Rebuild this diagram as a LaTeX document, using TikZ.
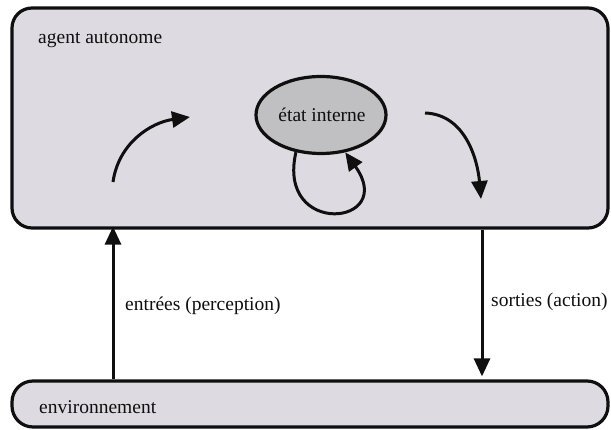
\documentclass[tikz,border=0pt]{standalone}
\usepackage{fontspec}
\setmainfont{Liberation Serif}
\usetikzlibrary{arrows.meta,shapes.geometric}
\definecolor{boxgray}{RGB}{221,219,225}
\definecolor{ellgray}{RGB}{192,191,194}
\definecolor{ink}{RGB}{15,15,15}
\tikzset{
  panel/.style={draw=ink,line width=3.2pt,fill=boxgray,rounded corners=20pt,inner sep=0pt},
  arr/.style={draw=ink,line width=3pt,-{Triangle[length=18pt,width=16pt]}},
  lbl/.style={font=\fontsize{19.5}{22}\selectfont,text=ink,inner sep=0pt}
}
\begin{document}
\begin{tikzpicture}[x=1pt,y=-1pt]
\useasboundingbox (0,0) rectangle (611,430);
\node[panel,minimum width=596pt,minimum height=220pt] (agent) at (310,118) {};
\node[panel,rounded corners=21pt,minimum width=596pt,minimum height=46pt] (env) at (310,404) {};
\node[draw=ink,line width=3.2pt,fill=ellgray,ellipse,minimum width=130pt,minimum height=77pt,inner sep=0pt] (etat) at (321,115) {};
\node[lbl] (etatlbl) at (322,115) {état interne};
\node[lbl,anchor=base west] (agentlbl) at (38,44) {agent autonome};
\node[lbl,anchor=base west] (envlbl) at (39,414) {environnement};
\node[lbl,anchor=base west] (inlbl) at (125,311) {entrées (perception)};
\node[lbl,anchor=base west] (outlbl) at (491,307) {sorties (action)};
% curved arrows inside the agent
\coordinate (a1) at (113,182);
\coordinate (a2) at (190,117);
\coordinate (b1) at (425,113);
\coordinate (b2) at (481,199);
\draw[arr] (a1) to[out=82,in=188] (a2);
\draw[arr] (b1) to[out=-2,in=95] (b2);
% self loop
\draw[arr] (etat.-124) .. controls (276,238) and (398,226) .. (etat.-57);
% vertical arrows
\draw[arr,shorten >=-4pt] ([xshift=-197pt]env.north) -- ([xshift=-197pt,yshift=-1pt]agent.south);
\draw[arr,shorten >=3pt] ([xshift=172pt]agent.south) -- ([xshift=172pt]env.north);
\end{tikzpicture}
\end{document}
